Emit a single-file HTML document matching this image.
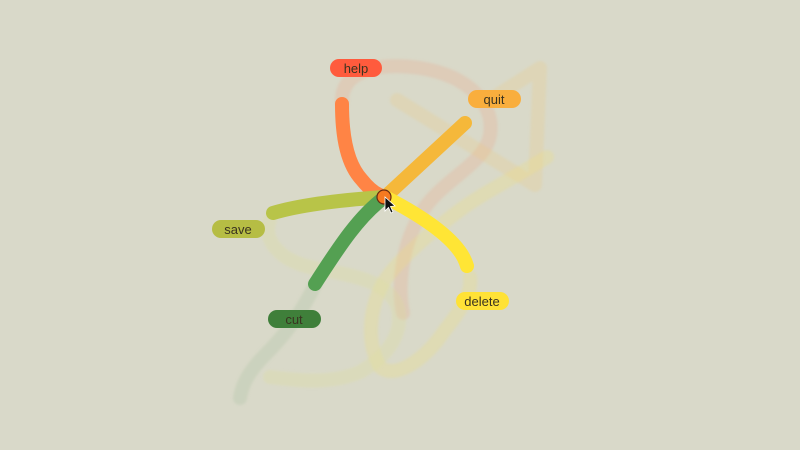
<!DOCTYPE html>
<html><head><meta charset="utf-8"><style>
html,body{margin:0;padding:0;background:#d9d9c9;width:800px;height:450px;overflow:hidden}
svg{display:block}
text{font-family:"Liberation Sans",sans-serif;font-size:13px;fill:#3a3320}
</style></head><body>
<svg width="800" height="450" viewBox="0 0 800 450">
<defs><filter id="soft" x="-10%" y="-10%" width="120%" height="120%"><feGaussianBlur stdDeviation="1.2"/></filter></defs>
<rect width="800" height="450" fill="#d9d9c9"/>
<g fill="none" stroke-linecap="round" stroke-linejoin="round" stroke-width="14" filter="url(#soft)">
<path d="M342,103 C340,70 380,62 420,68 C470,76 495,105 490,135 C485,165 440,180 420,215 C400,250 398,290 403,313" stroke="rgba(232,170,140,0.28)"/>
<path d="M397,100 L535,185 L540,68 L490,100" stroke="rgba(235,200,130,0.26)"/>
<path d="M547,157 C510,180 480,195 460,210 C420,240 395,265 385,280 C370,305 365,340 380,367 C395,380 425,360 445,330 C465,305 472,290 470,277" stroke="rgba(240,225,120,0.26)"/>
<path d="M270,220 C262,240 280,260 310,267 C345,275 385,278 397,305 C405,330 390,355 360,372 C330,385 295,380 270,377" stroke="rgba(222,222,160,0.32)"/>
<path d="M315,285 C300,315 285,335 265,355 C248,372 242,385 240,398" stroke="rgba(175,195,165,0.32)"/>
</g>
<g fill="none" stroke-linecap="round" stroke-width="14">
<path d="M342,104 C342,140 348,165 362,180 C370,190 377,195 385,197" stroke="#ff8445"/>
<path d="M385,197 L465,123" stroke="#f5b83a"/>
<path d="M385,197 C340,200 300,205 273,213" stroke="#b8c448"/>
<path d="M385,197 C360,215 340,245 315,284" stroke="#54a052"/>
<path d="M385,197 C420,215 460,240 467,266" stroke="#ffe535"/>
</g>
<g>
<g><rect x="330" y="59" width="52" height="18" rx="9" fill="#ff5b3d"/><text x="356" y="73" text-anchor="middle">help</text></g>
<g><rect x="468" y="90" width="53" height="18" rx="9" fill="#f9ae3d"/><text x="494" y="104" text-anchor="middle">quit</text></g>
<g><rect x="212" y="220" width="53" height="18" rx="9" fill="#b6bd44"/><text x="238" y="234" text-anchor="middle">save</text></g>
<g><rect x="268" y="310" width="53" height="18" rx="9" fill="#3f7f3a"/><text x="294" y="324" text-anchor="middle">cut</text></g>
<g><rect x="456" y="292" width="53" height="18" rx="9" fill="#ffe236"/><text x="482" y="306" text-anchor="middle">delete</text></g>
</g>
<circle cx="384" cy="197" r="7" fill="#f57a20" stroke="#6a2a10" stroke-width="1.2"/>
<path d="M385,197 L385,211 L388.5,207.5 L391,213 L393,212 L390.5,206.5 L395,206 Z" fill="#111" stroke="#fff" stroke-width="0.8"/>
</svg>
</body></html>
